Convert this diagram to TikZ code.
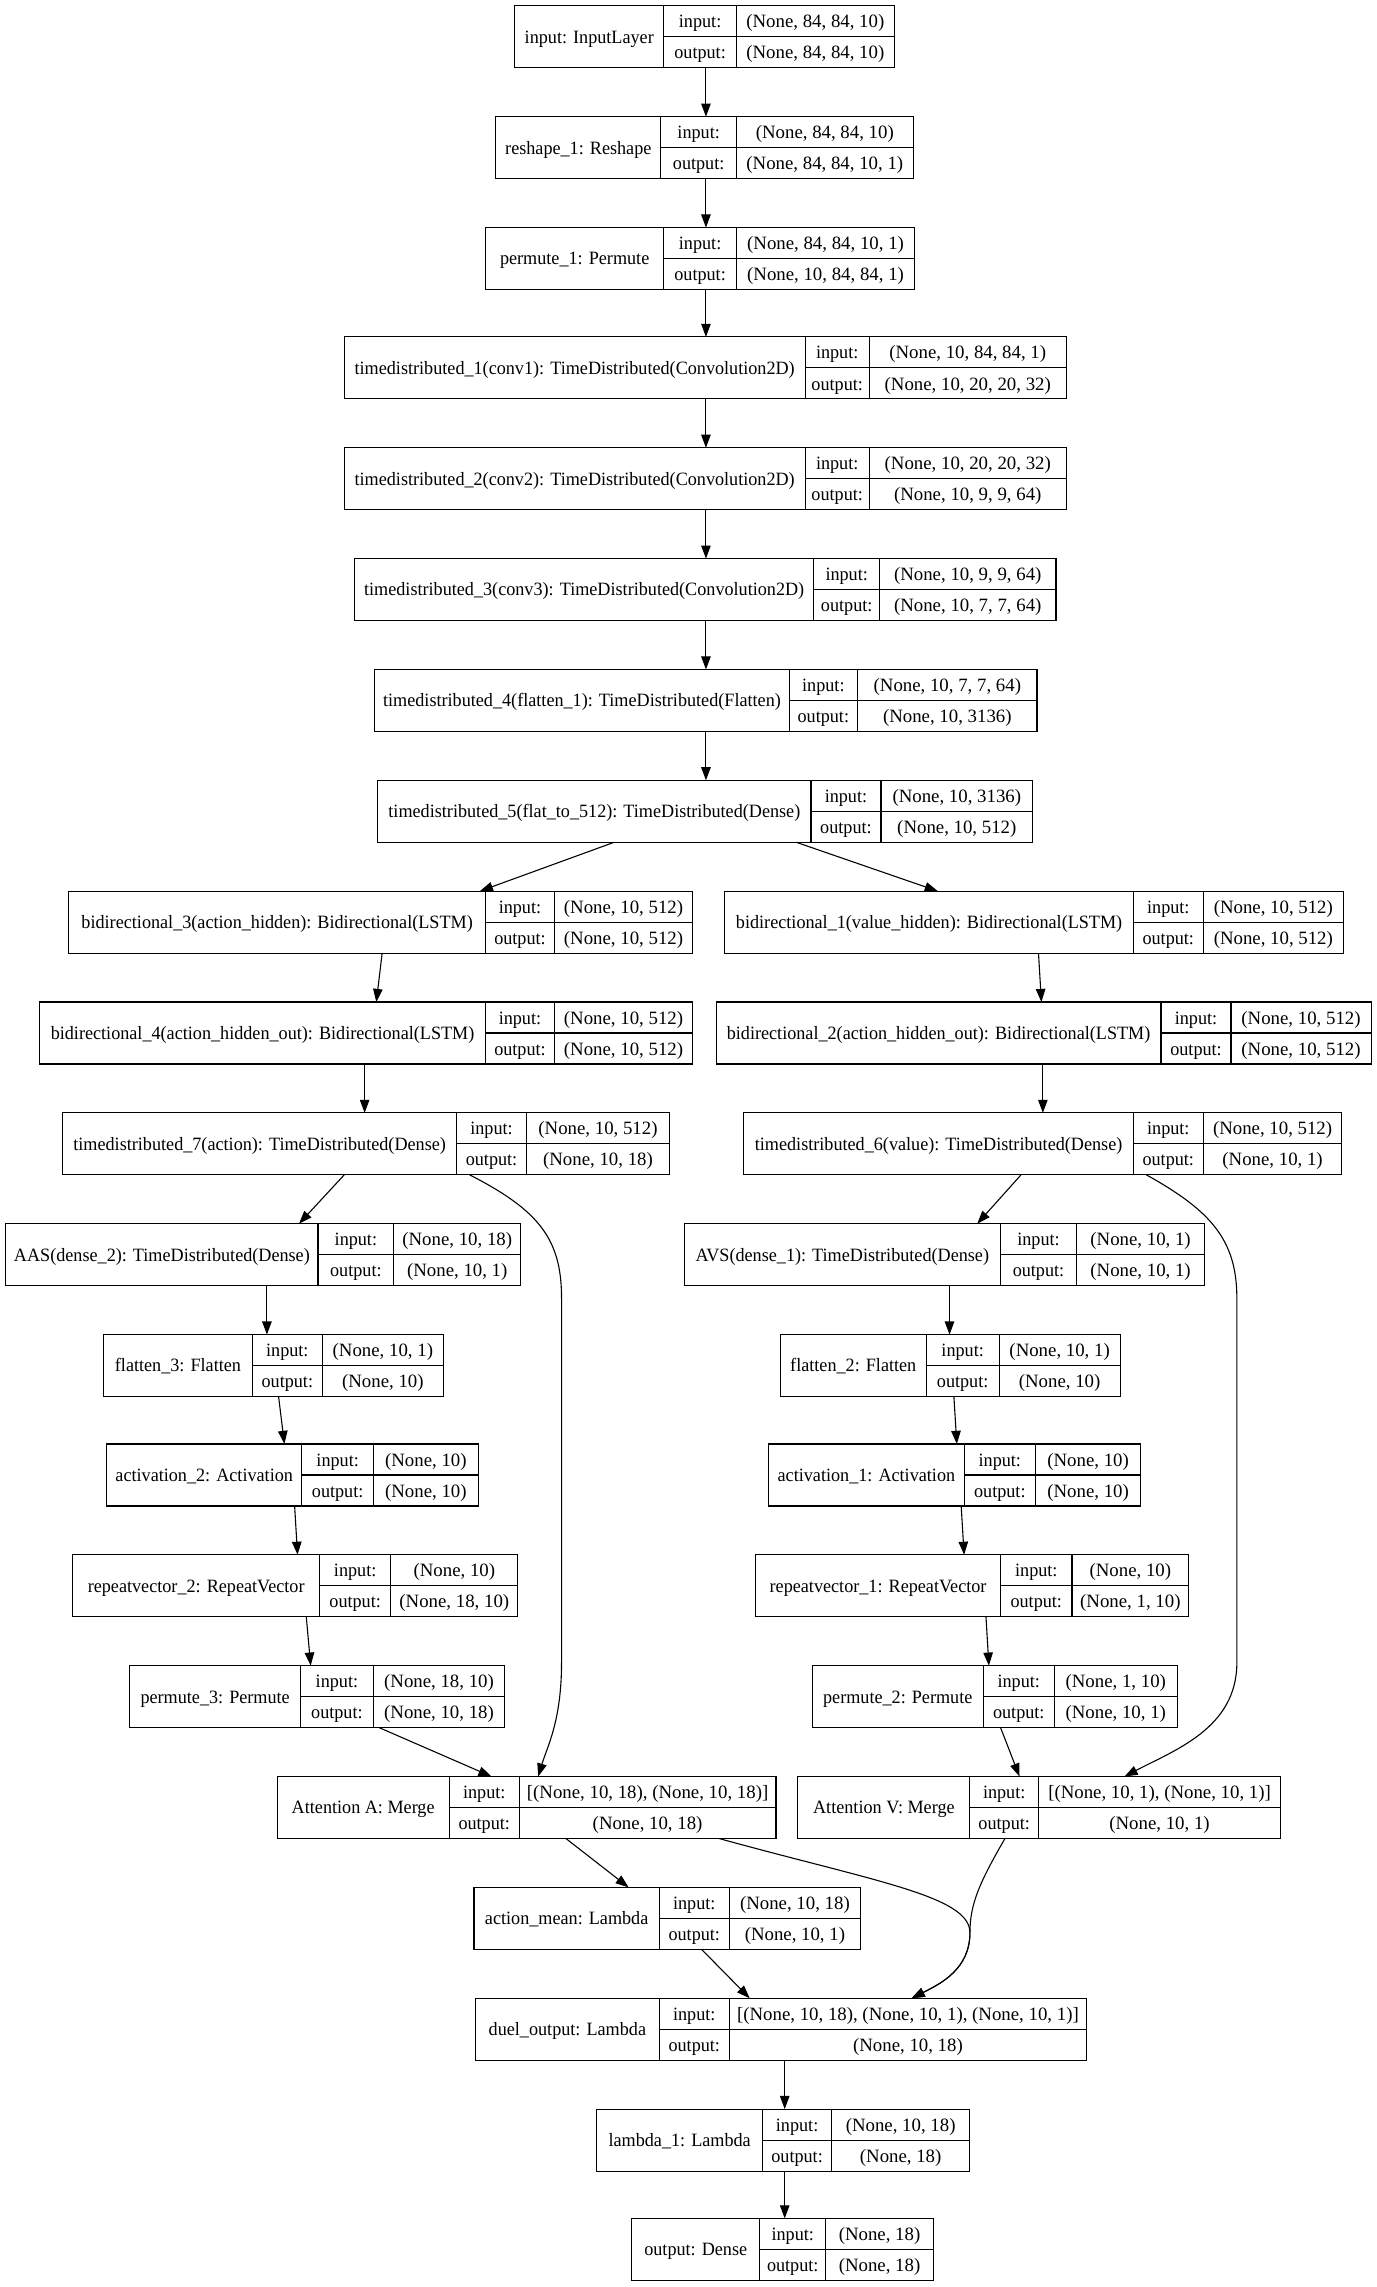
\documentclass[tikz,border=0pt]{standalone}
\usepackage{fontspec}
\setmainfont{Liberation Serif}
\newfontfamily\narrowserif[FakeStretch=0.965]{Liberation Serif}
\usetikzlibrary{arrows.meta}
\def\bh{42.5}
\tikzset{
 box/.style={draw, line width=0.75pt, inner sep=0pt, outer sep=0pt, minimum height=42.5pt},
 div/.style={line width=0.75pt},
 txt/.style={inner sep=0pt, anchor=base, font=\fontsize{12.9}{15}\selectfont},
 lbl/.style={txt, font=\narrowserif\fontsize{12.9}{15}\selectfont},
 edge/.style={line width=0.75pt, -{Triangle[length=9pt,width=6.5pt]}},
}
% name, left, top, right, div1, div2, label, in, out
\newcommand\rec[9]{%
 \node[box, minimum width={(#4-#2)*1pt}, anchor=north west] (#1) at (#2,#3) {};
 \draw[div] (#5,#3) -- (#5,{#3+\bh}) (#6,#3) -- (#6,{#3+\bh}) (#5,{#3+\bh/2}) -- (#4,{#3+\bh/2});
 \node[lbl] (#1l) at ({(#2+#5)/2},{#3+25.6}) {#7};
 \node[lbl] (#1a) at ({(#5+#6)/2},{#3+15.1}) {input:};
 \node[lbl] (#1b) at ({(#5+#6)/2},{#3+36.4}) {output:};
 \node[txt] (#1c) at ({(#6+#4)/2},{#3+15.1}) {#8};
 \node[txt] (#1d) at ({(#6+#4)/2},{#3+36.4}) {#9};
}
\begin{document}
\begin{tikzpicture}[x=1pt,y=-1pt]
\fill[white] (0,0) rectangle (944,1568);
\useasboundingbox (0,0) rectangle (944,1568);
\rec{n1}{353}{4}{613}{455}{505}{input: InputLayer}{(None, 84, 84, 10)}{(None, 84, 84, 10)}
\rec{n2}{340}{80}{626}{453}{505}{reshape\_1: Reshape}{(None, 84, 84, 10)}{(None, 84, 84, 10, 1)}
\rec{n3}{333}{156}{627}{455}{505}{permute\_1: Permute}{(None, 84, 84, 10, 1)}{(None, 10, 84, 84, 1)}
\rec{n4}{236}{231}{731}{552}{596}{timedistributed\_1(conv1): TimeDistributed(Convolution2D)}{(None, 10, 84, 84, 1)}{(None, 10, 20, 20, 32)}
\rec{n5}{236}{307}{731}{552}{596}{timedistributed\_2(conv2): TimeDistributed(Convolution2D)}{(None, 10, 20, 20, 32)}{(None, 10, 9, 9, 64)}
\rec{n6}{243}{383}{724}{558}{603}{timedistributed\_3(conv3): TimeDistributed(Convolution2D)}{(None, 10, 9, 9, 64)}{(None, 10, 7, 7, 64)}
\rec{n7}{257}{459}{711}{541}{588}{timedistributed\_4(flatten\_1): TimeDistributed(Flatten)}{(None, 10, 7, 7, 64)}{(None, 10, 3136)}
\rec{n8}{259}{535}{708}{556}{604}{timedistributed\_5(flat\_to\_512): TimeDistributed(Dense)}{(None, 10, 3136)}{(None, 10, 512)}
\rec{n9}{47}{611}{475}{333}{380}{bidirectional\_3(action\_hidden): Bidirectional(LSTM)}{(None, 10, 512)}{(None, 10, 512)}
\rec{n10}{27}{687}{475}{333}{380}{bidirectional\_4(action\_hidden\_out): Bidirectional(LSTM)}{(None, 10, 512)}{(None, 10, 512)}
\rec{n11}{43}{763}{459}{313}{361}{timedistributed\_7(action): TimeDistributed(Dense)}{(None, 10, 512)}{(None, 10, 18)}
\rec{n12}{4}{839}{357}{218}{270}{AAS(dense\_2): TimeDistributed(Dense)}{(None, 10, 18)}{(None, 10, 1)}
\rec{n13}{71}{915}{304}{173}{221}{flatten\_3: Flatten}{(None, 10, 1)}{(None, 10)}
\rec{n14}{73}{990}{328}{207}{256}{activation\_2: Activation}{(None, 10)}{(None, 10)}
\rec{n15}{50}{1066}{355}{219}{268}{repeatvector\_2: RepeatVector}{(None, 10)}{(None, 18, 10)}
\rec{n16}{89}{1142}{346}{206}{256}{permute\_3: Permute}{(None, 18, 10)}{(None, 10, 18)}
\rec{n17}{190}{1218}{532}{308}{356}{Attention A: Merge}{[(None, 10, 18), (None, 10, 18)]}{(None, 10, 18)}
\rec{n18}{325}{1294}{590}{452}{500}{action\_mean: Lambda}{(None, 10, 18)}{(None, 10, 1)}
\rec{n19}{497}{611}{921}{777}{825}{bidirectional\_1(value\_hidden): Bidirectional(LSTM)}{(None, 10, 512)}{(None, 10, 512)}
\rec{n20}{491}{687}{940}{796}{844}{bidirectional\_2(action\_hidden\_out): Bidirectional(LSTM)}{(None, 10, 512)}{(None, 10, 512)}
\rec{n21}{510}{763}{920}{777}{825}{timedistributed\_6(value): TimeDistributed(Dense)}{(None, 10, 512)}{(None, 10, 1)}
\rec{n22}{469}{839}{826}{686}{738}{AVS(dense\_1): TimeDistributed(Dense)}{(None, 10, 1)}{(None, 10, 1)}
\rec{n23}{535}{915}{768}{635}{685}{flatten\_2: Flatten}{(None, 10, 1)}{(None, 10)}
\rec{n24}{527}{990}{782}{661}{710}{activation\_1: Activation}{(None, 10)}{(None, 10)}
\rec{n25}{518}{1066}{815}{686}{735}{repeatvector\_1: RepeatVector}{(None, 10)}{(None, 1, 10)}
\rec{n26}{557}{1142}{807}{674}{723}{permute\_2: Permute}{(None, 1, 10)}{(None, 10, 1)}
\rec{n27}{547}{1218}{878}{665}{712}{Attention V: Merge}{[(None, 10, 1), (None, 10, 1)]}{(None, 10, 1)}
\rec{n28}{326}{1370}{745}{452}{500}{duel\_output: Lambda}{[(None, 10, 18), (None, 10, 1), (None, 10, 1)]}{(None, 10, 18)}
\rec{n29}{409}{1446}{665}{523}{570}{lambda\_1: Lambda}{(None, 10, 18)}{(None, 18)}
\rec{n30}{433}{1521}{640}{521}{566}{output: Dense}{(None, 18)}{(None, 18)}
% trunk
\draw[edge] (n1.south -| 484,0) -- (n2.north -| 484,0);
\draw[edge] (n2.south -| 484,0) -- (n3.north -| 484,0);
\draw[edge] (n3.south -| 484,0) -- (n4.north -| 484,0);
\draw[edge] (n4.south -| 484,0) -- (n5.north -| 484,0);
\draw[edge] (n5.south -| 484,0) -- (n6.north -| 484,0);
\draw[edge] (n6.south -| 484,0) -- (n7.north -| 484,0);
\draw[edge] (n7.south -| 484,0) -- (n8.north -| 484,0);
\draw[edge] (n8.south -| 421,0) -- (n9.north -| 329,0);
\draw[edge] (n8.south -| 546,0) -- (n19.north -| 643,0);
% left branch
\draw[edge] (n9.south -| 262,0) -- (n10.north -| 258,0);
\draw[edge] (n10.south -| 250,0) -- (n11.north -| 250,0);
\draw[edge] (n11.south -| 236,0) -- (n12.north -| 205,0);
\draw[edge] (n11.south -| 322,0) .. controls (370,830) and (385,850) .. (385,890) -- (385,1140) .. controls (385,1180) and (375,1198) .. (n17.north -| 369,0);
\draw[edge] (n12.south -| 183,0) -- (n13.north -| 183,0);
\draw[edge] (n13.south -| 191,0) -- (n14.north -| 195,0);
\draw[edge] (n14.south -| 202,0) -- (n15.north -| 204,0);
\draw[edge] (n15.south -| 210,0) -- (n16.north -| 213,0);
\draw[edge] (n16.south -| 260,0) -- (n17.north -| 337,0);
\draw[edge] (n17.south -| 388,0) -- (n18.north -| 431,0);
\draw[edge] (n17.south -| 493,0) .. controls (600,1290) and (665,1300) .. (665,1325) .. controls (665,1350) and (645,1360) .. (n28.north -| 625,0);
\draw[edge] (n18.south -| 481,0) -- (n28.north -| 514,0);
% right branch
\draw[edge] (n19.south -| 712,0) -- (n20.north -| 714,0);
\draw[edge] (n20.south -| 715,0) -- (n21.north -| 715,0);
\draw[edge] (n21.south -| 700,0) -- (n22.north -| 670,0);
\draw[edge] (n21.south -| 786,0) .. controls (830,830) and (848,850) .. (848,890) -- (848,1140) .. controls (848,1185) and (805,1200) .. (n27.north -| 771,0);
\draw[edge] (n22.south -| 651,0) -- (n23.north -| 651,0);
\draw[edge] (n23.south -| 654,0) -- (n24.north -| 656,0);
\draw[edge] (n24.south -| 659,0) -- (n25.north -| 661,0);
\draw[edge] (n25.south -| 676,0) -- (n26.north -| 678,0);
\draw[edge] (n26.south -| 686,0) -- (n27.north -| 699,0);
\draw[edge] (n27.south -| 689,0) .. controls (672,1290) and (665,1305) .. (665,1325) .. controls (665,1350) and (645,1360) .. (n28.north -| 625,0);
% bottom
\draw[edge] (n28.south -| 538,0) -- (n29.north -| 538,0);
\draw[edge] (n29.south -| 538,0) -- (n30.north -| 538,0);
\end{tikzpicture}
\end{document}
